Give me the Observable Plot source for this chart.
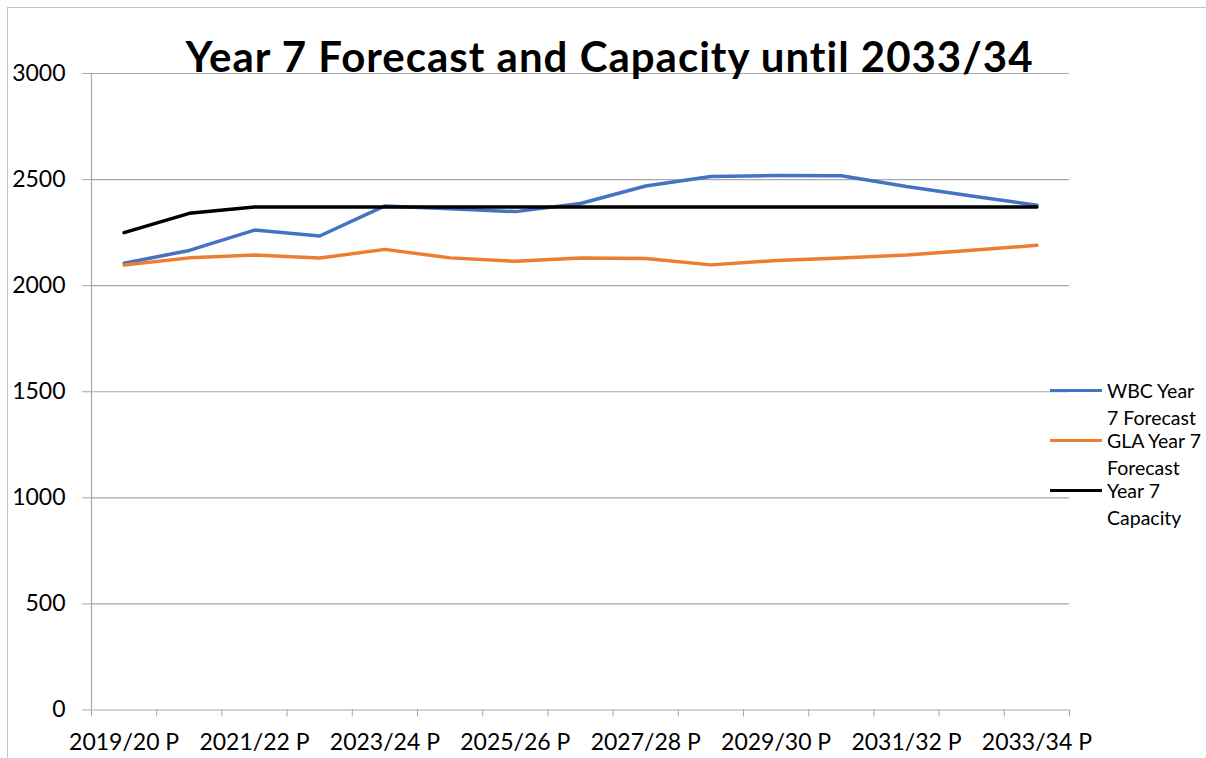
<!DOCTYPE html>
<html>
<head>
<meta charset="utf-8">
<script src="https://cdn.jsdelivr.net/npm/d3@7"></script>
<script src="https://cdn.jsdelivr.net/npm/@observablehq/plot@0.6"></script>
<style>
  html, body { margin: 0; padding: 0; background: #fff; }
  #wrap { position: relative; width: 1206px; height: 758px; overflow: hidden; font-family: Lato, "Open Sans", sans-serif; }
  #wrap svg { position: absolute; left: 0; top: 0; }
  .border-top { position: absolute; left: 7px; top: 7px; right: 0; height: 0; border-top: 1.5px solid #c4c4c4; }
  .border-left { position: absolute; left: 7px; top: 7px; bottom: 0; width: 0; border-left: 1.5px solid #c4c4c4; }
  #title { position: absolute; left: 0; width: 1219px; text-align: center; top: 35px; font-size: 42px; letter-spacing: 1px; line-height: 1; font-weight: bold; color: #000; white-space: nowrap; }
  .leg { position: absolute; left: 1050px; }
  .leg .sw { position: absolute; left: 0; top: 12px; width: 52px; height: 0; border-top: 3.5px solid; }
  .leg .tx { position: absolute; left: 57px; top: 0; width: 99px; font-size: 19.5px; line-height: 27px; color: #000; }
</style>
</head>
<body>
<div id="wrap">
  <div class="border-top"></div>
  <div class="border-left"></div>
</div>
<script>
const categories = ["2019/20 P","2020/21 P","2021/22 P","2022/23 P","2023/24 P","2024/25 P","2025/26 P","2026/27 P","2027/28 P","2028/29 P","2029/30 P","2030/31 P","2031/32 P","2032/33 P","2033/34 P"];
const wbcForecast = [2106,2166,2262,2234,2376,2363,2349,2387,2470,2515,2519,2518,2467,2423,2379];
const glaForecast = [2097,2131,2144,2130,2171,2131,2115,2130,2128,2098,2119,2130,2144,2167,2190];
const capacity = [2250,2341,2371,2371,2371,2371,2371,2371,2371,2371,2371,2371,2371,2371,2371];
const seriesNames = ["WBC Year 7 Forecast","GLA Year 7 Forecast","Year 7 Capacity"];
const seriesColors = ["#4472C4","#ED7D31","#000000"];
const yTicks = [0,500,1000,1500,2000,2500,3000];
const titleText = "Year 7 Forecast and Capacity until 2033/34";

const seriesValues = [wbcForecast, glaForecast, capacity];
const rows = seriesValues.map(vals => categories.map((c, i) => ({i, category: c, value: vals[i]})));
const boundaries = d3.range(categories.length + 1).map(k => k - 0.5);
const labelIdx = categories.map((c, i) => i).filter(i => i % 2 === 0);
const gridColor = "#a9a9a9";

const chart = Plot.plot({
  width: 1206,
  height: 758,
  marginLeft: 91,
  marginRight: 137,
  marginTop: 73,
  marginBottom: 48.5,
  style: {fontFamily: "Lato, 'Open Sans', sans-serif", fontSize: "23px", color: "#000", background: "transparent", overflow: "visible"},
  x: {domain: [-0.5, categories.length - 0.5]},
  y: {domain: [0, 3000]},
  marks: [
    Plot.ruleY(yTicks.filter(d => d > 0), {stroke: gridColor, strokeWidth: 1.2}),
    Plot.ruleY([0], {stroke: gridColor, strokeWidth: 1.2}),
    Plot.ruleX([-0.5], {stroke: gridColor, strokeWidth: 1.2}),
    Plot.axisY({ticks: yTicks, tickSize: 9, tickPadding: 17, stroke: gridColor, fill: "#000", label: null, tickFormat: d => String(d), fontSize: 23}),
    Plot.axisX({ticks: boundaries, tickSize: 7, stroke: gridColor, tickFormat: () => "", label: null}),
    Plot.axisX({ticks: labelIdx, tickSize: 0, tickPadding: 24, fill: "#000", tickFormat: i => categories[i], label: null, fontSize: 23}),
    ...rows.map((r, k) => Plot.line(r, {x: "i", y: "value", stroke: seriesColors[k], strokeWidth: 3.5}))
  ]
});

const wrap = document.getElementById("wrap");
wrap.appendChild(chart);

const title = document.createElement("div");
title.id = "title";
title.textContent = titleText;
wrap.appendChild(title);

const legTops = [377, 427, 477];
seriesNames.forEach((name, k) => {
  const item = document.createElement("div");
  item.className = "leg";
  item.style.top = legTops[k] + "px";
  const sw = document.createElement("div");
  sw.className = "sw";
  sw.style.borderTopColor = seriesColors[k];
  const tx = document.createElement("div");
  tx.className = "tx";
  tx.textContent = name;
  item.appendChild(sw);
  item.appendChild(tx);
  wrap.appendChild(item);
});
</script>
</body>
</html>
